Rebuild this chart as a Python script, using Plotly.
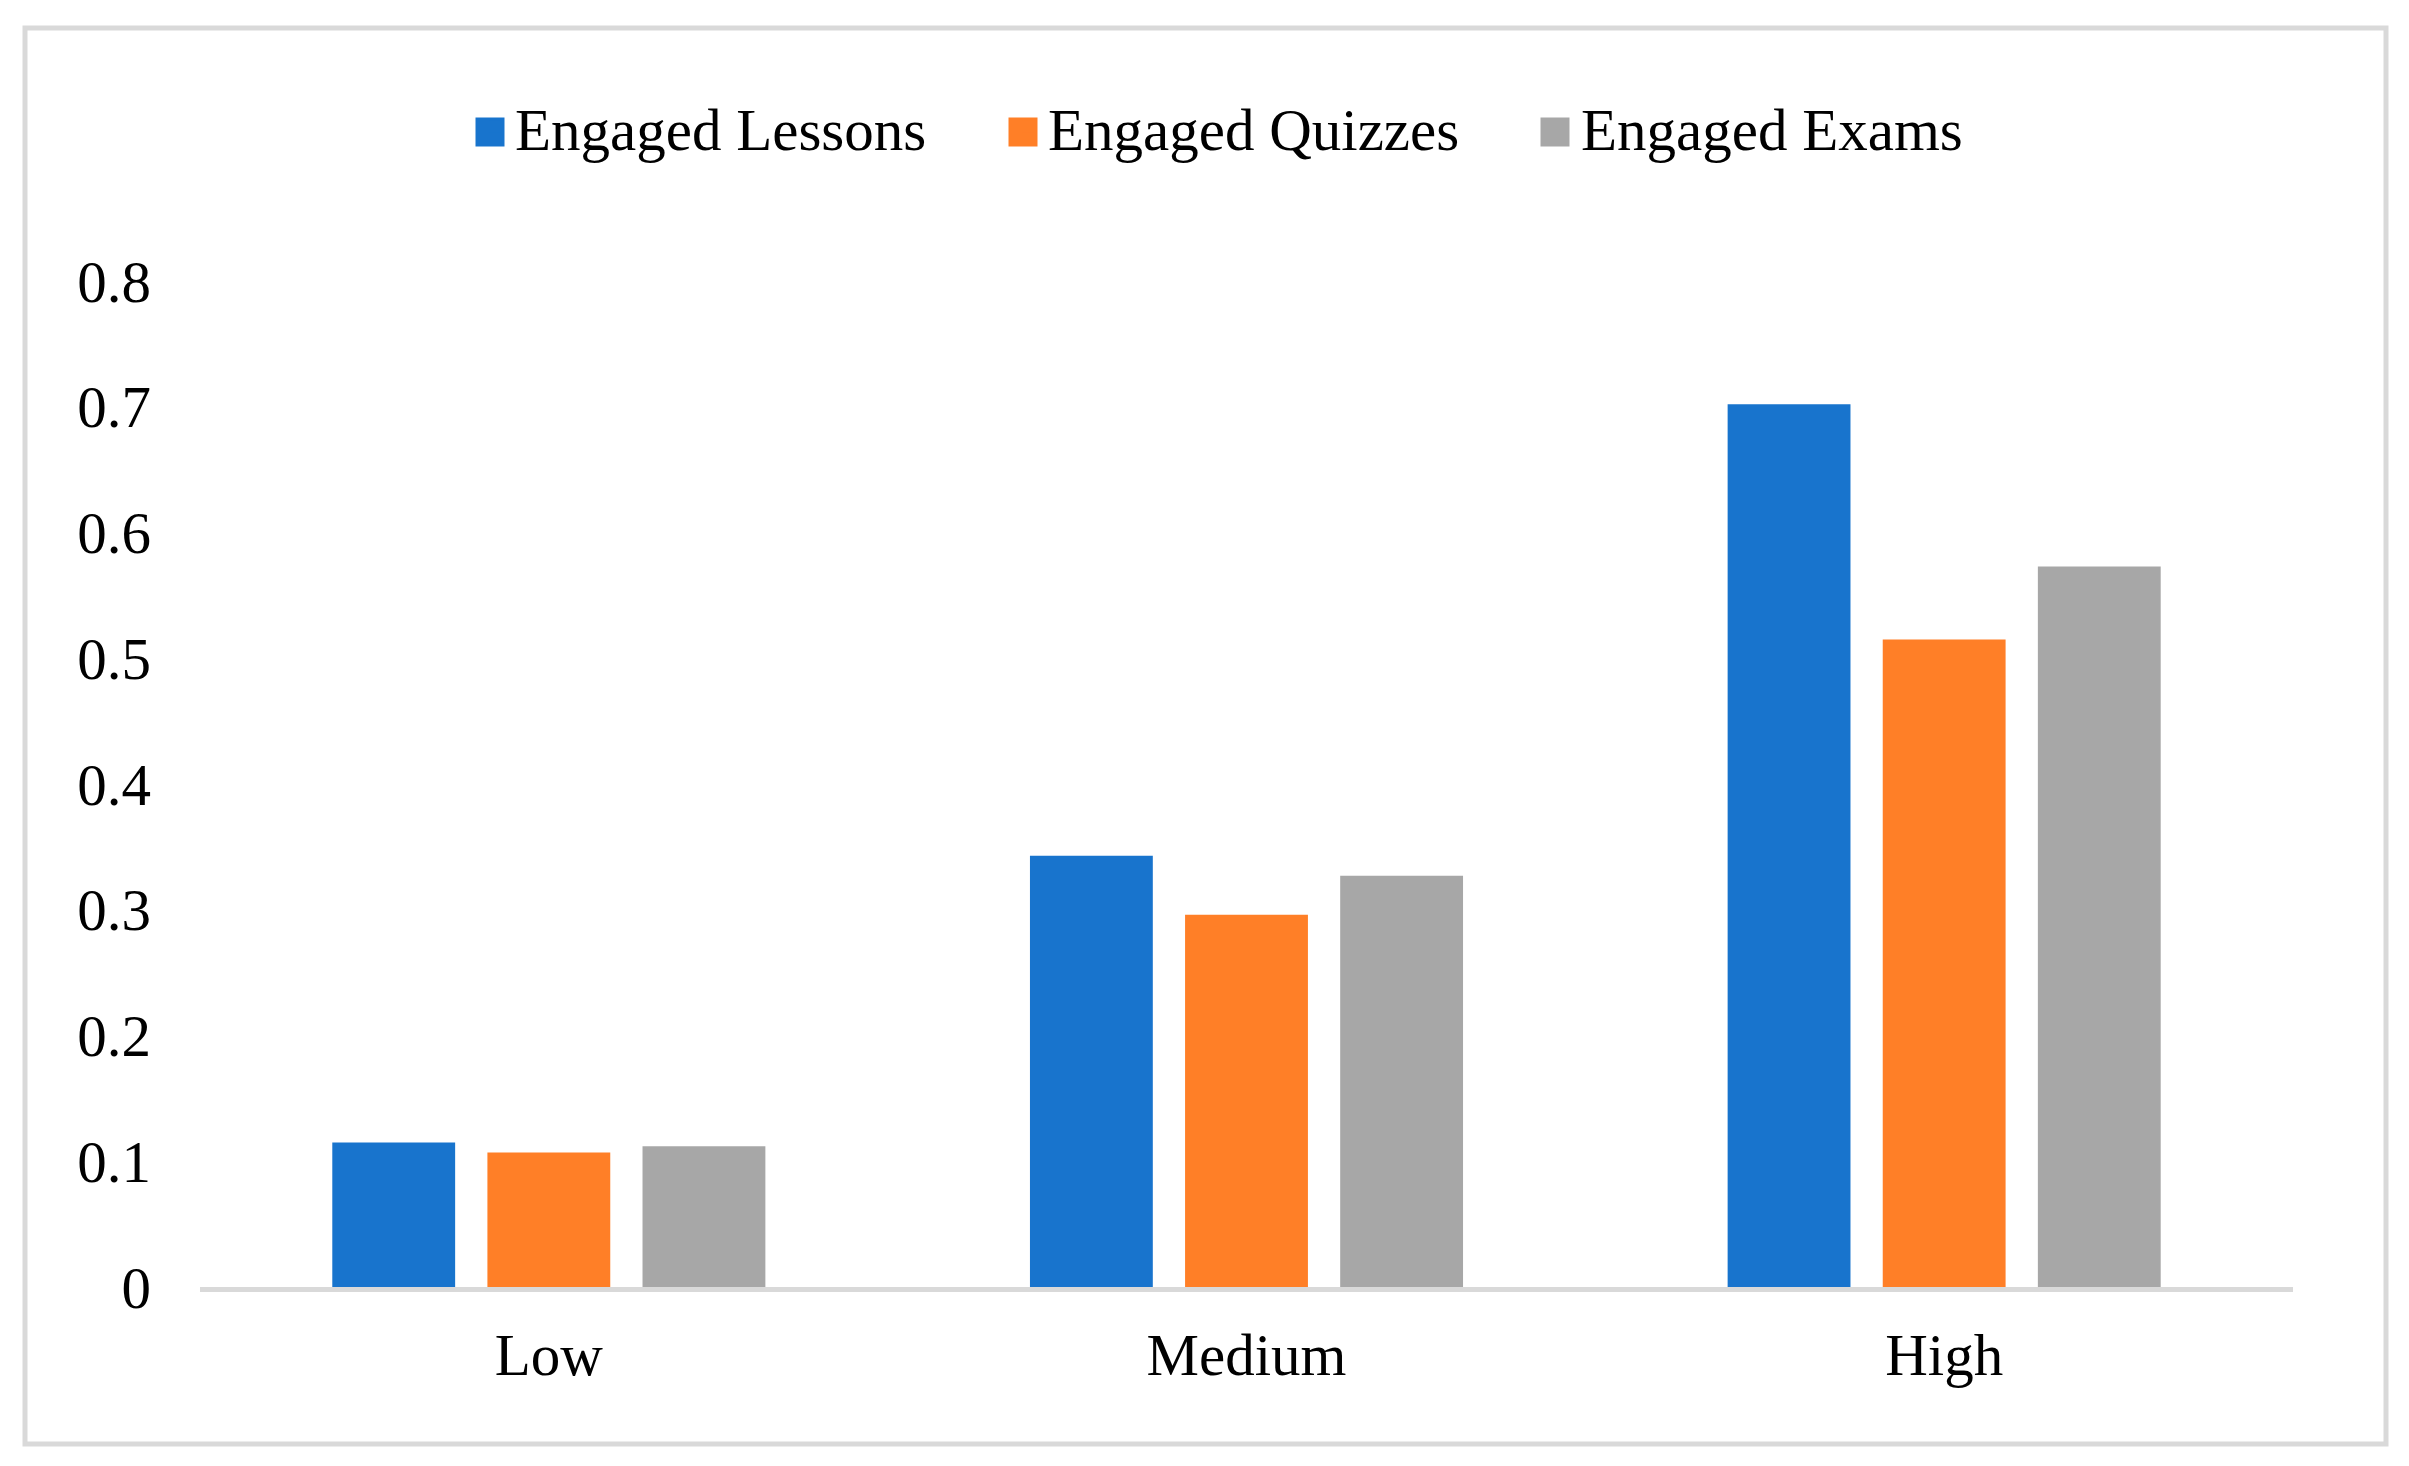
import plotly.graph_objects as go

categories = ["Low", "Medium", "High"]
series_names = ["Engaged Lessons", "Engaged Quizzes", "Engaged Exams"]
lessons = [0.115, 0.343, 0.702]
quizzes = [0.107, 0.296, 0.515]
exams = [0.112, 0.327, 0.573]
colors = ["#1874CD", "#FF7F27", "#A7A7A7"]
y_ticks = [0, 0.1, 0.2, 0.3, 0.4, 0.5, 0.6, 0.7, 0.8]
y_tick_labels = ["0", "0.1", "0.2", "0.3", "0.4", "0.5", "0.6", "0.7", "0.8"]

# page geometry (the browser page adds an 8px body margin)
OFF = 8
PW, PH = 2409, 1466
W, H = PW - OFF, PH - OFF
# plot area in page pixels
P_L, P_R, P_T, P_B = 200, 2293, 281, 1287
L = P_L - OFF
R = PW - P_R
T = P_T - OFF
B = PH - P_B
pw = P_R - P_L
ph = P_B - P_T

FONT = "Liberation Serif, Times New Roman, serif"
FS = 59

fig = go.Figure()
for name, vals, col in zip(series_names, [lessons, quizzes, exams], colors):
    fig.add_trace(go.Bar(x=categories, y=vals, name=name, marker=dict(color=col, line=dict(width=0))))

def px2x(px):
    return (px - P_L) / pw

def px2y(py):
    return (P_B - py) / ph

# legend swatch layout (page pixels)
swatch_cx = [490, 1023, 1555]
leg_y = 132
sq = 29

shapes = [dict(
    type="rect", xref="paper", yref="paper",
    x0=px2x(25), x1=px2x(2386), y0=px2y(1444), y1=px2y(28),
    line=dict(color="#D9D9D9", width=5), fillcolor="rgba(0,0,0,0)", layer="below",
)]
for cx, col in zip(swatch_cx, colors):
    shapes.append(dict(
        type="rect", xref="paper", yref="paper",
        x0=px2x(cx - sq / 2), x1=px2x(cx + sq / 2),
        y0=px2y(leg_y + sq / 2), y1=px2y(leg_y - sq / 2),
        line=dict(width=0), fillcolor=col, layer="above",
    ))

fig.update_layout(
    width=W, height=H,
    margin=dict(l=L, r=R, t=T, b=B, autoexpand=False),
    paper_bgcolor="white", plot_bgcolor="white",
    barmode="group", bargap=0.333, bargroupgap=0.208,
    font=dict(family=FONT, size=FS, color="#000000"),
    showlegend=True,
    legend=dict(
        orientation="h", x=px2x(475), xanchor="left", y=px2y(127), yanchor="middle",
        font=dict(family=FONT, size=FS, color="#000000"),
        entrywidth=488, entrywidthmode="pixels", itemwidth=30,
        bgcolor="rgba(0,0,0,0)", traceorder="normal",
    ),
    xaxis=dict(
        showline=True, linecolor="#D9D9D9", linewidth=5, showgrid=False, zeroline=False,
        ticks="", ticklabelstandoff=12, tickfont=dict(family=FONT, size=FS, color="#000000"),
    ),
    yaxis=dict(
        range=[0, 0.8], tickvals=y_ticks, ticktext=y_tick_labels, showgrid=False, zeroline=False,
        showline=False, ticks="", ticklabelstandoff=48,
        tickfont=dict(family=FONT, size=FS, color="#000000"),
    ),
    shapes=shapes,
)

fig.write_html("out.html")
